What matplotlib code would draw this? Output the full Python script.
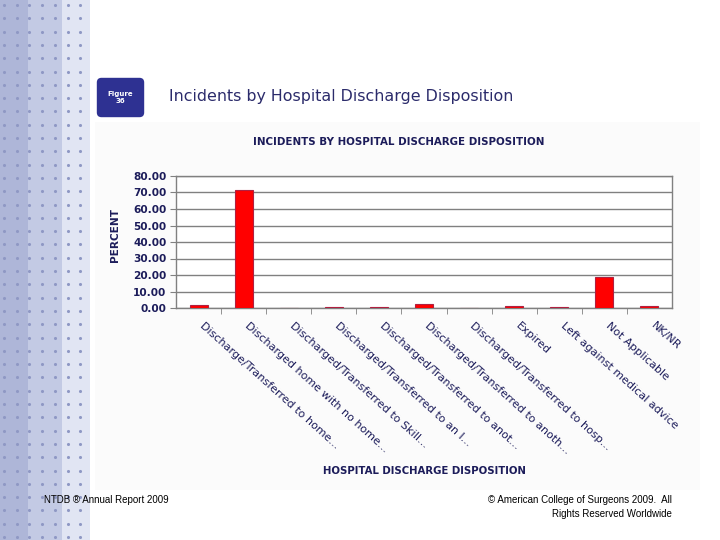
import numpy as np
import matplotlib.pyplot as plt
import matplotlib.transforms as mtransforms
from matplotlib.patches import Rectangle, FancyBboxPatch

# data
categories = [
    "Discharge/Transferred to home...",
    "Discharged home with no home...",
    "Discharged/Transferred to Skill...",
    "Discharged/Transferred to an I...",
    "Discharged/Transferred to anot...",
    "Discharged/Transferred to anoth...",
    "Discharged/Transferred to hosp...",
    "Expired",
    "Left against medical advice",
    "Not Applicable",
    "NK/NR",
]
percent = [1.6, 71.5, 0.2, 0.5, 0.9, 2.4, 0.0, 1.2, 0.4, 19.0, 1.2]
y_ticks = [0, 10, 20, 30, 40, 50, 60, 70, 80]

navy = "#1c1c5a"
W, H = 720, 540

fig = plt.figure(figsize=(7.2, 5.4), dpi=100)
fig.patch.set_facecolor("white")

# overlay axes in pixel coordinates for slide decoration
deco = fig.add_axes([0, 0, 1, 1], zorder=0.5)
deco.set_xlim(0, W)
deco.set_ylim(H, 0)
deco.axis("off")

# left decorative strip (three bands with dots)
bands = [(0, 28, "#aeb6d8"), (28, 62, "#c3cae4"), (62, 90, "#e1e5f3")]
for x0, x1, c in bands:
    deco.add_patch(Rectangle((x0, 0), x1 - x0, H, color=c, lw=0, zorder=0))
gx, gy = np.meshgrid(np.arange(4, 90, 12.7), np.arange(5, 540, 13.3))
deco.scatter(gx.ravel(), gy.ravel(), s=5, color="#8f98c4", lw=0, zorder=1)

# chart image background
deco.add_patch(Rectangle((95, 122), 605, 368, color="#fbfbfb", lw=0, zorder=0))

# badge and slide title
deco.add_patch(FancyBboxPatch((99, 80), 43, 35, boxstyle="round,pad=1.5,rounding_size=4",
                              color="#2e3192"))
deco.text(120.5, 97.5, "Figure\n36", color="white", fontsize=5, ha="center", va="center",
          fontweight="bold", linespacing=1.1)
deco.text(169, 97, "Incidents by Hospital Discharge Disposition", color="#2b2b6b",
          fontsize=11.4, ha="left", va="center")

# footer
deco.text(44, 500, "NTDB \u00ae Annual Report 2009", fontsize=7, family="Liberation Sans",
          ha="left", va="center")
deco.text(672, 500, "\u00a9 American College of Surgeons 2009.  All", fontsize=7,
          family="Liberation Sans", ha="right", va="center")
deco.text(672, 514, "Rights Reserved Worldwide", fontsize=7, family="Liberation Sans",
          ha="right", va="center")

# chart texts
deco.text(399, 142, "INCIDENTS BY HOSPITAL DISCHARGE DISPOSITION", color=navy,
          fontsize=7.4, fontweight="bold", ha="center", va="center")
deco.text(115, 235, "PERCENT", color=navy, fontsize=7.6, fontweight="bold",
          rotation=90, ha="center", va="center")
deco.text(424, 471, "HOSPITAL DISCHARGE DISPOSITION", color=navy, fontsize=7.3,
          fontweight="bold", ha="center", va="center")

# bar chart
ax = fig.add_axes([176 / W, 1 - 308 / H, (672 - 176) / W, (308 - 176) / H], zorder=2)
ax.set_facecolor("white")
x = np.arange(len(categories))
ax.bar(x, percent, width=0.4, color="#ff0000", edgecolor="#b02040", linewidth=0.8, zorder=3)
ax.set_xlim(-0.5, len(categories) - 0.5)
ax.set_ylim(0, 80)
ax.set_yticks(y_ticks)
ax.set_yticklabels([f"{v:.2f}" for v in y_ticks], color=navy, fontsize=7.6, fontweight="bold")
ax.yaxis.grid(True, color="#808080", lw=1)
ax.set_axisbelow(True)
for s in ax.spines.values():
    s.set_color("#808080")
    s.set_linewidth(1)
ax.tick_params(axis="y", length=4, color="#808080", pad=3)
ax.set_xticks(x)
ax.set_xticklabels(categories, rotation=-42, ha="left", va="top", rotation_mode="anchor",
                   color=navy, fontsize=8)
ax.tick_params(axis="x", length=0, pad=9)
ax.set_xticks(np.arange(0.5, len(categories) - 0.5), minor=True)
ax.tick_params(axis="x", which="minor", length=4, color="#808080")
shift = mtransforms.ScaledTranslation(0.06, 0, fig.dpi_scale_trans)
for lbl in ax.get_xticklabels():
    lbl.set_transform(lbl.get_transform() + shift)

fig.savefig("out.png", dpi=100)
